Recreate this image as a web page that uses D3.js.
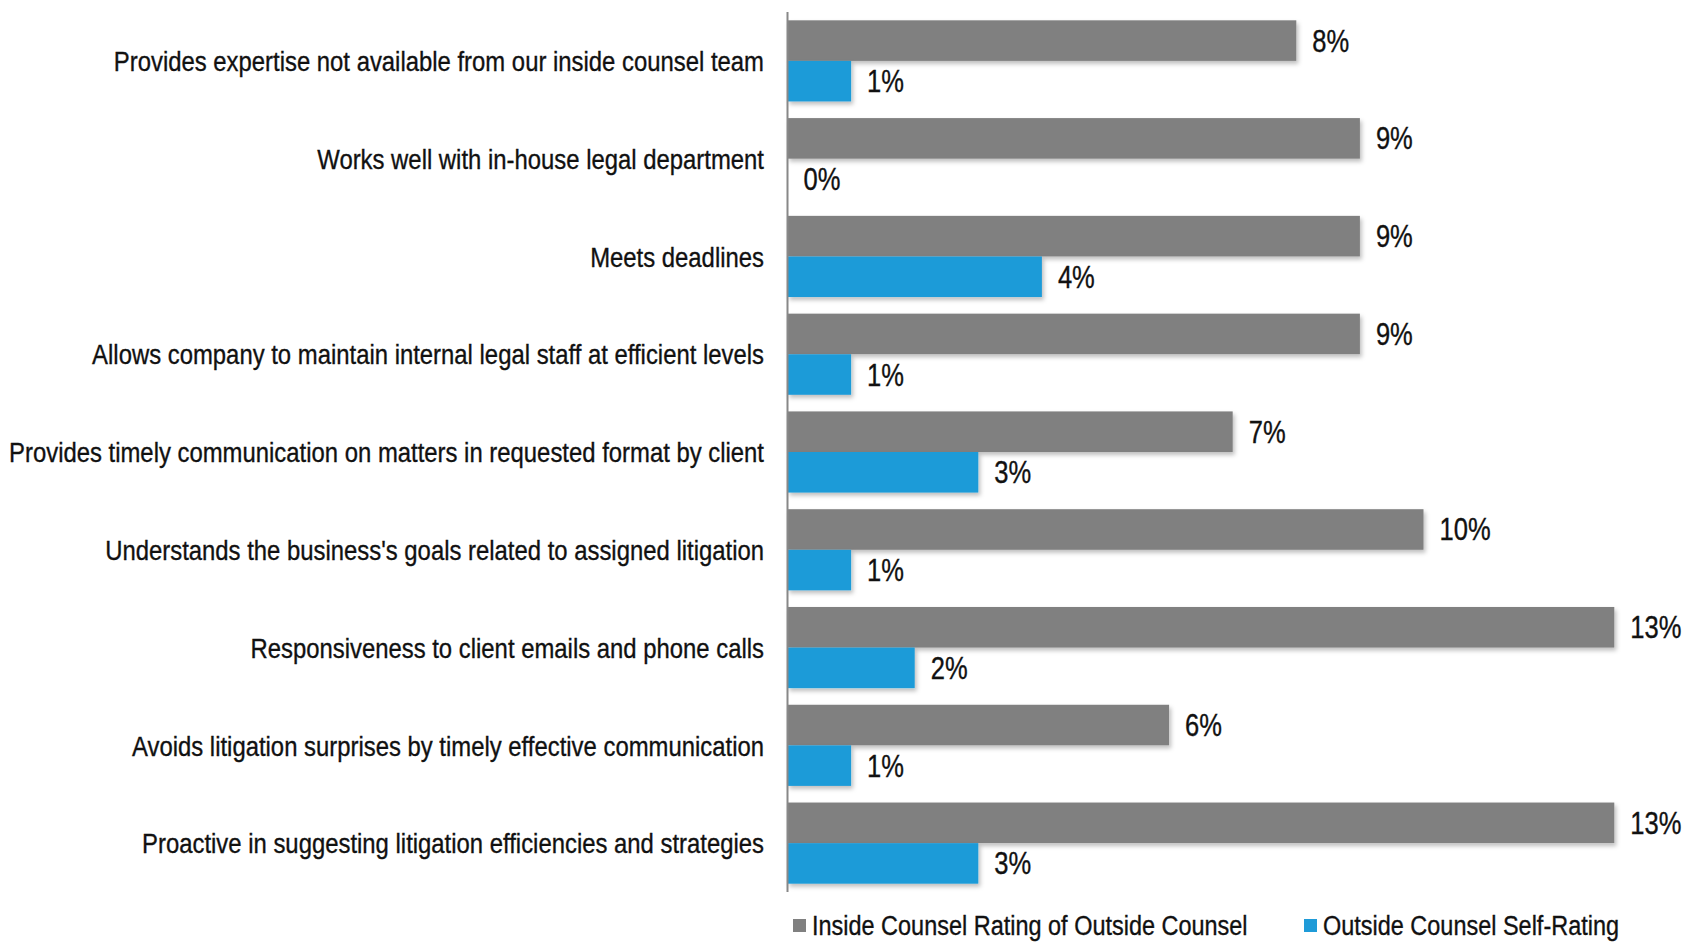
<!DOCTYPE html>
<html>
<head>
<meta charset="utf-8">
<script src="https://cdn.jsdelivr.net/npm/d3@7"></script>
<style>
  html, body { margin: 0; padding: 0; background: #ffffff; }
  svg { display: block; }
  text { font-family: "Liberation Sans", Arial, sans-serif; fill: #111; stroke: #111; stroke-width: 0.35px; }
</style>
</head>
<body>
<svg id="chart" width="1689" height="943"></svg>
<script>
const categories = [
  "Provides expertise not available from our inside counsel team",
  "Works well with in-house legal department",
  "Meets deadlines",
  "Allows company to maintain internal legal staff at efficient levels",
  "Provides timely communication on matters in requested format by client",
  "Understands the business's goals related to assigned litigation",
  "Responsiveness to client emails and phone calls",
  "Avoids litigation surprises by timely effective communication",
  "Proactive in suggesting litigation efficiencies and strategies"
];
const insideRating = [8, 9, 9, 9, 7, 10, 13, 6, 13];
const selfRating   = [1, 0, 4, 1, 3, 1, 2, 1, 3];
const seriesNames = ["Inside Counsel Rating of Outside Counsel", "Outside Counsel Self-Rating"];
const seriesColors = ["#808080", "#1F9BD8"];

const NARROW = 0.838; // emulate a narrow sans face

const svg = d3.select("#chart");
const margin = { left: 787.5, top: 12, bottom: 51 };
const H = 943;

const defs = svg.append("defs");
const f = defs.append("filter").attr("id", "shadow").attr("x", "-5%").attr("y", "-20%").attr("width", "115%").attr("height", "160%");
f.append("feDropShadow").attr("dx", 2).attr("dy", 3).attr("stdDeviation", 2).attr("flood-color", "#000").attr("flood-opacity", 0.25);

const x = d3.scaleLinear().domain([0, 14]).range([margin.left, margin.left + 14 * 63.6]);
const y = d3.scaleBand().domain(categories).range([margin.top, H - margin.bottom]).paddingInner(0.17).paddingOuter(0.085);
const sub = d3.scaleBand().domain([0, 1]).range([0, y.bandwidth()]).padding(0);

const data = categories.map((c, i) => ({ c, vals: [insideRating[i], selfRating[i]] }));

const groups = svg.append("g").selectAll("g").data(data).join("g")
  .attr("transform", d => `translate(0,${y(d.c)})`);

groups.selectAll("rect").data(d => d.vals.map((v, k) => ({ v, k }))).join("rect")
  .attr("x", x(0))
  .attr("y", d => sub(d.k))
  .attr("width", d => x(d.v) - x(0))
  .attr("height", sub.bandwidth())
  .attr("fill", d => seriesColors[d.k])
  .attr("filter", d => d.v > 0 ? "url(#shadow)" : null);

groups.selectAll("g.val").data(d => d.vals.map((v, k) => ({ v, k }))).join("g")
  .attr("class", "val")
  .attr("transform", d => `translate(${x(d.v) + 16},${sub(d.k) + sub.bandwidth() / 2}) scale(${NARROW},1)`)
  .append("text")
  .attr("dy", "0.36em")
  .attr("font-size", 30.5)
  .text(d => d.v + "%");

// category axis labels
svg.append("g").selectAll("g").data(categories).join("g")
  .attr("transform", d => `translate(${margin.left - 23.5},${y(d) + y.bandwidth() / 2}) scale(${NARROW},1)`)
  .append("text")
  .attr("dy", "0.36em")
  .attr("text-anchor", "end")
  .attr("font-size", 28.5)
  .text(d => d);

// axis line
svg.append("line")
  .attr("x1", x(0)).attr("x2", x(0))
  .attr("y1", margin.top).attr("y2", H - margin.bottom)
  .attr("stroke", "#888").attr("stroke-width", 2);

// legend
const legendX = [793, 1304];
const lg = svg.append("g").selectAll("g").data(seriesNames).join("g")
  .attr("transform", (d, i) => `translate(${legendX[i]},925)`);
lg.append("rect").attr("x", 0).attr("y", -6).attr("width", 13).attr("height", 13).attr("fill", (d, i) => seriesColors[i]);
lg.append("g").attr("transform", `translate(19,0) scale(${NARROW},1)`)
  .append("text").attr("dy", "0.36em").attr("font-size", 28).text(d => d);
</script>
</body>
</html>
